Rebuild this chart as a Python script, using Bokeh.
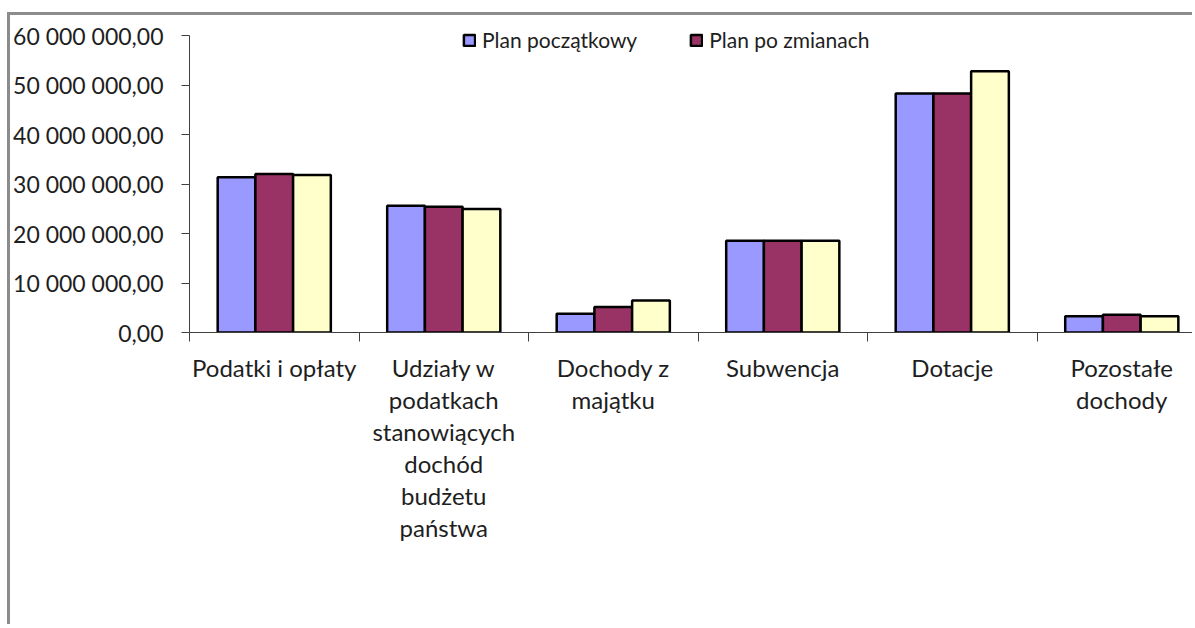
from bokeh.plotting import figure
from bokeh.models import ColumnDataSource, Range1d, FixedTicker, Legend, LegendItem
from bokeh.transform import dodge
from bokeh.embed import file_html
from bokeh.resources import INLINE

categories = ["Podatki i opłaty",
              "Udziały w\npodatkach\nstanowiących\ndochód\nbudżetu\npaństwa",
              "Dochody z\nmajątku",
              "Subwencja",
              "Dotacje",
              "Pozostałe\ndochody"]
plan_poczatkowy = [31350000, 25600000, 3780000, 18550000, 48300000, 3300000]
plan_po_zmianach = [32000000, 25400000, 5130000, 18550000, 48300000, 3580000]
seria_3 = [31800000, 24950000, 6470000, 18550000, 52800000, 3300000]
y_ticks = [0, 10000000, 20000000, 30000000, 40000000, 50000000, 60000000]

FONT = "Lato"
TXT = "#1e1e1e"

pos = [i + 0.5 for i in range(len(categories))]
src = ColumnDataSource(dict(pos=pos, a=plan_poczatkowy, b=plan_po_zmianach, c=seria_3))

p = figure(width=1185, height=612, output_backend="svg", toolbar_location=None,
           x_range=Range1d(0, (1195 - 192) / 169),
           y_range=Range1d(0, 60000000 * (332 - 20) / (332 - 35)),
           min_border_left=177, min_border_right=0, min_border_top=5, min_border_bottom=295)
p.styles = {"border-left": "3px solid #8c8c8c", "border-top": "3px solid #8c8c8c",
            "margin-top": "12px", "margin-left": "7px"}
p.outline_line_color = None
p.xgrid.visible = False
p.ygrid.visible = False

bw = 0.2225
r1 = p.vbar(x=dodge("pos", -bw, range=p.x_range), top="a", width=bw, source=src,
            fill_color="#9999FF", line_color="black", line_width=2.5)
r2 = p.vbar(x=dodge("pos", 0, range=p.x_range), top="b", width=bw, source=src,
            fill_color="#993366", line_color="black", line_width=2.5)
r3 = p.vbar(x=dodge("pos", bw, range=p.x_range), top="c", width=bw, source=src,
            fill_color="#FFFFCC", line_color="black", line_width=2.5)

legend = Legend(items=[LegendItem(label="Plan początkowy", renderers=[r1]),
                       LegendItem(label="Plan po zmianach", renderers=[r2])],
                orientation="horizontal", location=(273, 280),
                padding=0, margin=0, spacing=52, label_standoff=6,
                glyph_width=14, glyph_height=14,
                label_text_font=FONT, label_text_font_size="21px", label_text_color=TXT,
                background_fill_alpha=0, border_line_color=None)
p.add_layout(legend)

xa = p.xaxis[0]
xa.ticker = FixedTicker(ticks=pos, minor_ticks=list(range(len(categories) + 1)))
xa.major_label_overrides = {pos[i]: categories[i] for i in range(len(categories))}
xa.major_tick_out = 0
xa.major_tick_in = 0
xa.minor_tick_out = 9
xa.minor_tick_in = 0
xa.minor_tick_line_color = "#404040"
xa.axis_line_color = "#404040"
xa.major_label_text_font = FONT
xa.major_label_text_font_size = "24px"
xa.major_label_text_color = TXT
xa.major_label_text_line_height = 1.11
xa.major_label_standoff = 11
xa.major_label_text_align = "center"

ya = p.yaxis[0]
ya.ticker = FixedTicker(ticks=y_ticks, minor_ticks=[])
ya.bounds = (0, 60000000)
ya.major_label_overrides = {v: f"{v:,.2f}".replace(",", " ").replace(".", ",") for v in y_ticks}
ya.major_tick_out = 8
ya.major_tick_in = 0
ya.minor_tick_out = 0
ya.minor_tick_in = 0
ya.major_tick_line_color = "#404040"
ya.axis_line_color = "#404040"
ya.major_label_text_font = FONT
ya.major_label_text_font_size = "23px"
ya.major_label_text_color = TXT
ya.major_label_standoff = 18

open("out.html", "w").write(file_html(p, INLINE))
